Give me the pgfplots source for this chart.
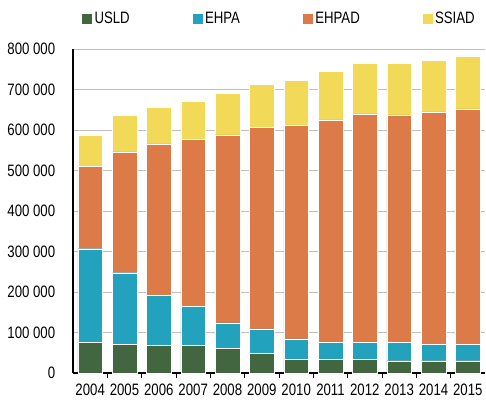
\documentclass[border=0pt]{standalone}
\usepackage{pgfplots}
\pgfplotsset{compat=1.18}
\usepackage{fontspec}
\setmainfont[FakeStretch=0.8]{Liberation Sans}
\definecolor{cUSLD}{HTML}{426640}
\definecolor{cEHPA}{HTML}{22A2BC}
\definecolor{cEHPAD}{HTML}{DD7B48}
\definecolor{cSSIAD}{HTML}{F2D958}
\begin{document}
\begin{tikzpicture}
\begin{axis}[
  at={(0pt,0pt)}, anchor=south west,
  scale only axis, width=412pt, height=324pt,
  ybar stacked, bar width=24.5pt,
  xmin=-0.5, xmax=11.5, ymin=0, ymax=800000,
  xtick={0,...,11},
  xticklabels={2004,2005,2006,2007,2008,2009,2010,2011,2012,2013,2014,2015},
  minor xtick={0.5,1.5,...,10.5},
  ytick={0,100000,...,800000},
  scaled y ticks=false,
  /pgf/number format/.cd, fixed, precision=0, 1000 sep={\ }, assume math mode=true,
  /pgfplots/.cd,
  axis x line*=bottom, axis y line*=left,
  axis line style={black, line width=1.6pt, -},
  major x tick style={draw=none},
  ytick style={draw=none},
  minor x tick style={black, line width=1pt},
  tick align=outside,
  minor tick length=5pt,
  ymajorgrids, grid style={color=black!25, line width=1pt},
  tick label style={font=\fontsize{16.5}{18}\selectfont},
  yticklabel style={xshift=-10pt},
  xticklabel style={yshift=-3pt},
  legend columns=4,
  legend style={draw=none, at={(0.5,1.0)}, anchor=south, yshift=20pt,
    font=\fontsize{16.5}{18}\selectfont, /tikz/every even column/.append style={column sep=60pt}},
  legend image code/.code={\fill[#1] (0pt,-5.5pt) rectangle (11pt,5.5pt);},
]
\addplot[fill=cUSLD, draw=white, line width=0.3pt] coordinates {(0,75600) (1,71600) (2,68000) (3,68000) (4,61000) (5,48500) (6,33700) (7,33700) (8,33700) (9,30400) (10,30400) (11,30400)};
\addplot[fill=cEHPA, draw=white, line width=0.3pt] coordinates {(0,231400) (1,176000) (2,123600) (3,97000) (4,63000) (5,60500) (6,50300) (7,41300) (8,42000) (9,45200) (10,41200) (11,41200)};
\addplot[fill=cEHPAD, draw=white, line width=0.3pt] coordinates {(0,203000) (1,298400) (2,374400) (3,412000) (4,464000) (5,497000) (6,527000) (7,550000) (8,564400) (9,561700) (10,573400) (11,580400)};
\addplot[fill=cSSIAD, draw=white, line width=0.3pt] coordinates {(0,78000) (1,91000) (2,90000) (3,94000) (4,102000) (5,106000) (6,112000) (7,120000) (8,124000) (9,127000) (10,127000) (11,131000)};
\legend{USLD,EHPA,EHPAD,SSIAD}
\end{axis}
\pgfresetboundingbox
\useasboundingbox (-73pt,-27pt) rectangle (413pt,373pt);
\end{tikzpicture}
\end{document}
